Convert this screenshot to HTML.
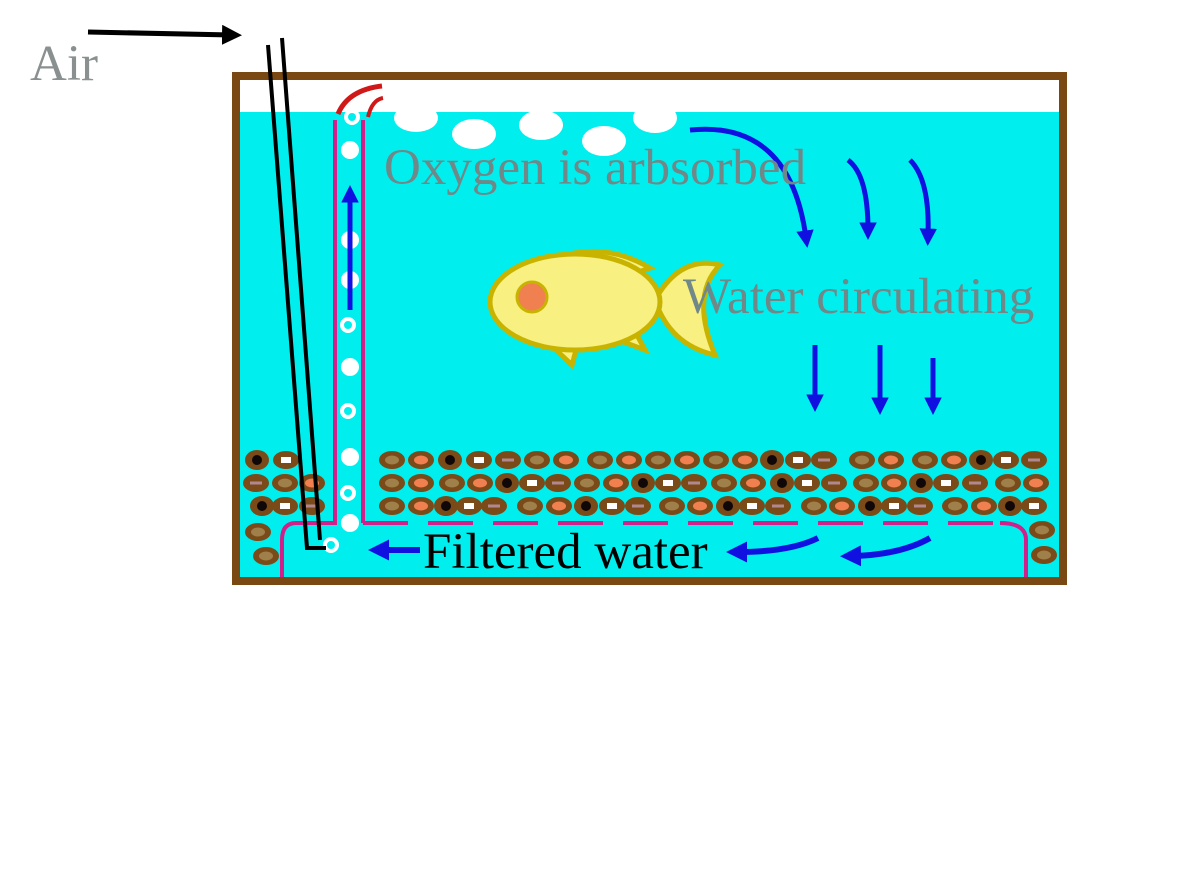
<!DOCTYPE html>
<html><head><style>body{margin:0;background:#fff}svg{display:block}</style></head><body>
<svg width="1200" height="873" viewBox="0 0 1200 873" xmlns="http://www.w3.org/2000/svg">
<defs>
<marker id="ah" markerWidth="3.5" markerHeight="3.5" refX="1.5" refY="1.75" orient="auto" markerUnits="strokeWidth"><path d="M0,0 L3.5,1.75 L0,3.5 z" fill="#1010e0"/></marker>
<marker id="bh" markerWidth="4" markerHeight="4" refX="2" refY="2" orient="auto" markerUnits="strokeWidth"><path d="M0,0 L4,2 L0,4 z" fill="#000"/></marker>
<g id="pa"><ellipse rx="13" ry="9" fill="#7a4a18"/><ellipse rx="7" ry="4.5" fill="#a0804a"/></g>
<g id="pb"><ellipse rx="13" ry="9" fill="#7a4a18"/><ellipse rx="7" ry="4.5" fill="#f08050"/></g>
<g id="pc"><ellipse rx="12" ry="10" fill="#7a4a18"/><circle r="5" fill="#100808"/></g>
<g id="pd"><ellipse rx="13" ry="9" fill="#7a4a18"/><rect x="-5" y="-3" width="10" height="6" fill="#fff"/></g>
<g id="pe"><ellipse rx="13" ry="9" fill="#7a4a18"/><rect x="-6" y="-1.5" width="12" height="3" fill="#b08890"/></g>
</defs>
<rect x="236" y="76" width="827" height="505" fill="#fff" stroke="#7a4812" stroke-width="8"/>
<rect x="240" y="112" width="819" height="465" fill="#00eeee"/>
<g fill="#fff">
<ellipse cx="416" cy="118" rx="22" ry="14"/><ellipse cx="474" cy="134" rx="22" ry="15"/>
<ellipse cx="541" cy="125" rx="22" ry="15"/><ellipse cx="604" cy="141" rx="22" ry="15"/>
<ellipse cx="655" cy="118" rx="22" ry="15"/>
</g>
<!-- gravel row 1 -->
<use href="#pc" x="257" y="460"/><use href="#pd" x="286" y="460"/>
<use href="#pa" x="392" y="460"/><use href="#pb" x="421" y="460"/><use href="#pc" x="450" y="460"/><use href="#pd" x="479" y="460"/><use href="#pe" x="508" y="460"/><use href="#pa" x="537" y="460"/><use href="#pb" x="566" y="460"/><use href="#pa" x="600" y="460"/><use href="#pb" x="629" y="460"/><use href="#pa" x="658" y="460"/><use href="#pb" x="687" y="460"/><use href="#pa" x="716" y="460"/><use href="#pb" x="745" y="460"/><use href="#pc" x="772" y="460"/><use href="#pd" x="798" y="460"/><use href="#pe" x="824" y="460"/><use href="#pa" x="862" y="460"/><use href="#pb" x="891" y="460"/><use href="#pa" x="925" y="460"/><use href="#pb" x="954" y="460"/><use href="#pc" x="981" y="460"/><use href="#pd" x="1006" y="460"/><use href="#pe" x="1034" y="460"/>
<!-- row 2 -->
<use href="#pe" x="256" y="483"/><use href="#pa" x="285" y="483"/><use href="#pb" x="312" y="483"/>
<use href="#pa" x="392" y="483"/><use href="#pb" x="421" y="483"/><use href="#pa" x="452" y="483"/><use href="#pb" x="480" y="483"/><use href="#pc" x="507" y="483"/><use href="#pd" x="532" y="483"/><use href="#pe" x="558" y="483"/><use href="#pa" x="587" y="483"/><use href="#pb" x="616" y="483"/><use href="#pc" x="643" y="483"/><use href="#pd" x="668" y="483"/><use href="#pe" x="694" y="483"/><use href="#pa" x="724" y="483"/><use href="#pb" x="753" y="483"/><use href="#pc" x="782" y="483"/><use href="#pd" x="807" y="483"/><use href="#pe" x="834" y="483"/><use href="#pa" x="866" y="483"/><use href="#pb" x="894" y="483"/><use href="#pc" x="921" y="483"/><use href="#pd" x="946" y="483"/><use href="#pe" x="975" y="483"/><use href="#pa" x="1008" y="483"/><use href="#pb" x="1036" y="483"/>
<!-- row 3 -->
<use href="#pc" x="262" y="506"/><use href="#pd" x="285" y="506"/><use href="#pe" x="312" y="506"/>
<use href="#pa" x="392" y="506"/><use href="#pb" x="421" y="506"/><use href="#pc" x="446" y="506"/><use href="#pd" x="469" y="506"/><use href="#pe" x="494" y="506"/><use href="#pa" x="530" y="506"/><use href="#pb" x="559" y="506"/><use href="#pc" x="586" y="506"/><use href="#pd" x="612" y="506"/><use href="#pe" x="638" y="506"/><use href="#pa" x="672" y="506"/><use href="#pb" x="700" y="506"/><use href="#pc" x="728" y="506"/><use href="#pd" x="752" y="506"/><use href="#pe" x="778" y="506"/><use href="#pa" x="814" y="506"/><use href="#pb" x="842" y="506"/><use href="#pc" x="870" y="506"/><use href="#pd" x="894" y="506"/><use href="#pe" x="920" y="506"/><use href="#pa" x="955" y="506"/><use href="#pb" x="984" y="506"/><use href="#pc" x="1010" y="506"/><use href="#pd" x="1034" y="506"/>
<use href="#pa" x="258" y="532"/><use href="#pa" x="266" y="556"/><use href="#pa" x="1042" y="530"/><use href="#pa" x="1044" y="555"/>
<g fill="none" stroke="#d0208a" stroke-width="4">
<path d="M335,120 L335,523 L296,523 Q282,523 282,540 L282,577"/>
<path d="M363,120 L363,523"/>
<path d="M363,523 L1010,523" stroke-dasharray="45,20"/>
<path d="M1000,523 Q1026,523 1026,540 L1026,577"/>
</g>
<path d="M338,114 Q348,90 382,86" fill="none" stroke="#d01818" stroke-width="5"/>
<path d="M368,117 Q372,100 383,98" fill="none" stroke="#d01818" stroke-width="4"/>
<g fill="#fff">
<circle cx="350" cy="150" r="9"/><circle cx="350" cy="240" r="9"/><circle cx="350" cy="280" r="9"/>
<circle cx="350" cy="367" r="9"/><circle cx="350" cy="457" r="9"/><circle cx="350" cy="523" r="9"/>
</g>
<g fill="#00eeee" stroke="#fff" stroke-width="4">
<circle cx="352" cy="117" r="6"/><circle cx="348" cy="325" r="6"/><circle cx="348" cy="411" r="6"/><circle cx="348" cy="493" r="6"/><circle cx="331" cy="545" r="6"/>
</g>
<path d="M268,45 L307,548 L326,548 M282,38 L320,540" fill="none" stroke="#000" stroke-width="4"/>
<path d="M88,32 L232,35" stroke="#000" stroke-width="5" marker-end="url(#bh)"/>
<g fill="none" stroke="#1010e0" stroke-width="5" marker-end="url(#ah)">
<path d="M350,310 L350,195"/>
<path d="M690,130 Q790,120 806,238"/>
<path d="M848,160 Q868,175 868,230"/>
<path d="M910,160 Q930,180 928,236"/>
<path d="M815,345 L815,402"/><path d="M880,345 L880,405"/><path d="M933,358 L933,405"/>
<path d="M420,550 L380,550" stroke-width="6"/>
<path d="M818,538 Q790,552 738,552" stroke-width="6"/>
<path d="M930,538 Q900,555 852,556" stroke-width="6"/>
</g>
<g stroke="#c8b400" stroke-width="5" fill="#f8f080">
<path d="M545,262 Q600,238 650,268 L600,285 Z"/>
<path d="M540,335 L572,365 L580,335 Z"/><path d="M605,335 L645,350 L630,322 Z"/>
<path d="M655,300 Q680,255 720,265 Q690,295 715,355 Q670,345 655,300Z"/>
<ellipse cx="575" cy="302" rx="85" ry="48"/>
</g>
<circle cx="532" cy="297" r="15" fill="#f08050" stroke="#c8b400" stroke-width="3"/>
<g font-family="Liberation Serif, serif" font-size="51">
<text x="30" y="80" fill="#8a9090">Air</text>
<text x="384" y="184" fill="#708888">Oxygen is arbsorbed</text>
<text x="683" y="313" fill="#708888">Water circulating</text>
<text x="423" y="568" fill="#000">Filtered water</text>
</g>
</svg>
</body></html>
